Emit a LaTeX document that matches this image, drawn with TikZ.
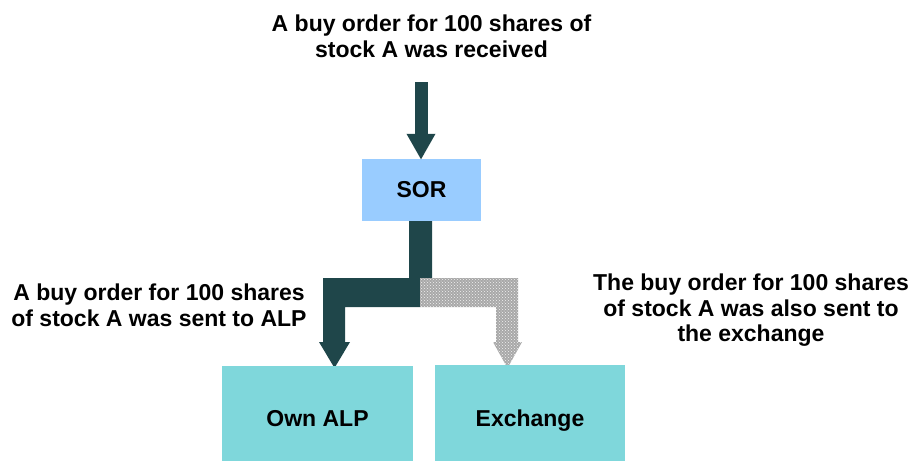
\documentclass[tikz,border=0pt]{standalone}
\usepackage{fontspec}
\setmainfont{Liberation Sans}
\usetikzlibrary{calc,patterns,arrows.meta}
\definecolor{darkarrow}{HTML}{1F464A}
\definecolor{sorblue}{HTML}{99CCFF}
\definecolor{tealbox}{HTML}{7FD7DB}
\definecolor{grayarrow}{HTML}{A8A8A8}
\tikzset{
  lbl/.style={font=\fontsize{23}{25.5}\selectfont\bfseries, align=center, inner sep=0pt},
  box/.style={draw=none, inner sep=0pt, font=\fontsize{23}{25.5}\selectfont\bfseries},
}
\begin{document}
\begin{tikzpicture}[x=1pt,y=-1pt]
\useasboundingbox (0,0) rectangle (909,461);
% nodes
\node[box, fill=sorblue, minimum width=119pt, minimum height=62pt] (sor) at (421.5,190) {SOR};
\coordinate (src) at (421,82);
% top arrow
\draw[darkarrow, line width=13pt, -{Triangle[width=27pt,length=26pt]}] (src) -- ($(sor.north)+(-0.5,1)$);
% dark L-shaped arrow toward Own ALP
\fill[darkarrow] ($(sor.south)+(-12.5,0)$) -- ($(sor.south)+(10.5,0)$) -- ($(sor.south)+(10.5,57)$)
  -- ($(sor.south)+(-1.5,57)$) -- ($(sor.south)+(-1.5,86)$) -- (345,307) -- (345,342) -- (350,342)
  -- (334.5,368) -- (319,342) -- (323,342) -- (323,278) -- ($(sor.south)+(-12.5,57)$) -- cycle;
% gray dotted arrow toward Exchange
\path[fill=grayarrow, postaction={pattern=crosshatch dots, pattern color=white!85!grayarrow}]
  (420,278) -- (518,278) -- (518,342) -- (522,342) -- (507.5,368) -- (493,342) -- (496,342) -- (496,307) -- (420,307) -- cycle;
\node[box, fill=tealbox, minimum width=191pt, minimum height=95pt, text height=26pt, text depth=0pt] (alp) at (317.5,413.5) {Own ALP};
\node[box, fill=tealbox, minimum width=190pt, minimum height=96pt, text height=26pt, text depth=0pt] (exch) at (530,413) {Exchange};
% labels (anchor=base is the last line's baseline)
\node[lbl, anchor=base] (t1) at (431.5,57) {A buy order for 100 shares of\\stock A was received};
\node[lbl, anchor=base] (t2) at (159,326) {A buy order for 100 shares\\of stock A was sent to ALP};
\node[lbl, anchor=base] (t3) at (751,341.7) {The buy order for 100 shares\\of stock A was also sent to\\the exchange};
\end{tikzpicture}
\end{document}
